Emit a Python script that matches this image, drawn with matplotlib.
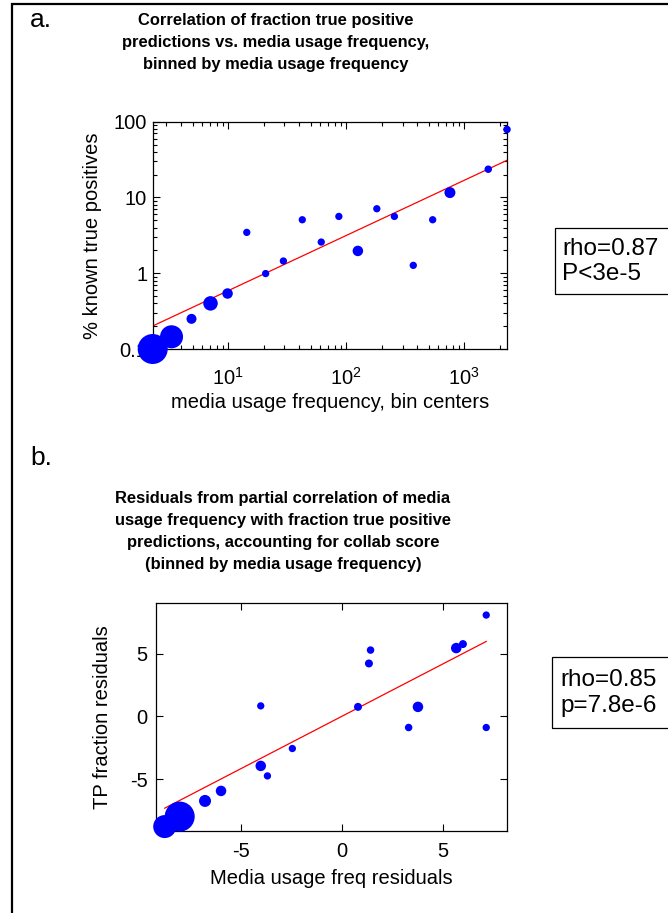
import matplotlib
matplotlib.use("Agg")
import matplotlib.pyplot as plt
from matplotlib import font_manager
from matplotlib.patches import Rectangle
import numpy as np

plt.rcParams["font.family"] = ["Liberation Sans", "DejaVu Sans"]
plt.rcParams["mathtext.fontset"] = "custom"
plt.rcParams["mathtext.rm"] = "Liberation Sans"
plt.rcParams["mathtext.it"] = "Liberation Sans:italic"
plt.rcParams["mathtext.bf"] = "Liberation Sans:bold"

W, H, DPI = 668, 913, 100

# ── panel a: binned by media usage frequency ────────────────────────────────
freq_bin_centers = [2.3, 3.32, 4.9, 7.1, 9.9, 14.4, 20.8, 29.4, 42.5, 61.5,
                    86.7, 125.6, 181.7, 256, 370, 540, 756, 1596, 2300]
pct_known_tp = [0.1, 0.145, 0.25, 0.40, 0.54, 3.46, 0.99, 1.45, 5.08, 2.58,
                5.62, 1.97, 7.1, 5.62, 1.27, 5.08, 11.6, 23.6, 79]
marker_px_a = [30, 23, 10, 14.5, 10.5, 7.3, 7.3, 7.3, 7.3, 7.3,
               7.3, 10.5, 7.3, 7.3, 7.3, 7.3, 11, 7.5, 7.5]
fit_a_slope, fit_a_intercept = 0.729, -0.960   # log10-log10 fit
y_ticks_a = [0.1, 1, 10, 100]
y_ticklabels_a = ["0.1", "1", "10", "100"]
x_ticks_a = [10, 100, 1000]
x_ticklabels_a = [r"$\mathdefault{10^{1}}$", r"$\mathdefault{10^{2}}$", r"$\mathdefault{10^{3}}$"]

# ── panel b: partial correlation residuals ──────────────────────────────────
media_resid = [-8.75, -8.01, -6.76, -5.97, -4.01, -4.01, -3.68, -2.45, 0.79,
               1.33, 1.41, 3.29, 3.75, 5.64, 5.97, 7.12, 7.12]
tp_resid = [-8.8, -8.0, -6.75, -5.95, 0.85, -3.95, -4.75, -2.56, 0.77,
            4.24, 5.31, -0.88, 0.77, 5.47, 5.79, 8.11, -0.88]
marker_px_b = [23, 30, 12, 10.5, 7.3, 10.5, 7.3, 7.3, 8,
               8, 7.5, 7.5, 10.5, 10.5, 8, 7.3, 7.3]
fit_b_slope, fit_b_intercept = 0.84, 0.02
ticks_b = [-5, 0, 5]

# titles are set in a narrow bold face in the original
_names = {f.name for f in font_manager.fontManager.ttflist}
if "Liberation Sans Narrow" in _names:
    TITLE_FONT = dict(family="Liberation Sans Narrow", fontsize=14.3, linespacing=1.3)
else:
    TITLE_FONT = dict(family="Liberation Sans", fontsize=11.9, linespacing=1.58)


def px_to_s(d):
    # marker diameter in pixels -> scatter area in points^2
    return (np.asarray(d) * 72 / DPI) ** 2


def fx(px):
    return px / W


def fy(px):
    return 1 - px / H


def style_axes(ax):
    ax.tick_params(which="both", direction="in", top=True, right=True,
                   labelsize=14.5, width=0.8)
    ax.tick_params(which="major", length=5)
    ax.tick_params(which="minor", length=3)
    for s in ax.spines.values():
        s.set_linewidth(0.9)


fig = plt.figure(figsize=(W / DPI, H / DPI), dpi=DPI)

# outer frame (cut off right and bottom)
fig.add_artist(Rectangle((fx(12), -0.1), 1.0, fy(4) + 0.1, transform=fig.transFigure,
                         fill=False, lw=1.6, edgecolor="black"))

# panel a
ax1 = fig.add_axes([fx(152.7), fy(349), fx(507 - 152.7), (349 - 121.7) / H])
ax1.set_xscale("log")
ax1.set_yscale("log")
ax1.scatter(freq_bin_centers, pct_known_tp, s=px_to_s(marker_px_a),
            color="#0000ff", edgecolors="none", clip_on=False, zorder=3)
xs = np.array(freq_bin_centers)
ax1.plot(xs, 10 ** (fit_a_intercept + fit_a_slope * np.log10(xs)),
         color="#ff0000", lw=0.9, zorder=2)
ax1.set_xlim(freq_bin_centers[0], freq_bin_centers[-1])
ax1.set_ylim(0.1, 100)
style_axes(ax1)
ax1.set_yticks(y_ticks_a, y_ticklabels_a)
ax1.set_xticks(x_ticks_a, x_ticklabels_a)
ax1.tick_params(axis="x", pad=13)
ax1.tick_params(axis="y", pad=4)
ax1.set_xlabel("media usage frequency, bin centers", fontsize=14.5, va="center")
ax1.set_ylabel("% known true positives", fontsize=14.5, va="center")
ax1.xaxis.set_label_coords(0.5, (349 - 402) / 227.3)
ax1.yaxis.set_label_coords((93 - 152.7) / 354.3, 0.5)

fig.text(fx(276), fy(13), "Correlation of fraction true positive\n"
         "predictions vs. media usage frequency,\n"
         "binned by media usage frequency",
         ha="center", va="top", fontweight="bold", **TITLE_FONT)
fig.text(fx(30), fy(27), "a.", fontsize=19, ha="left", va="baseline")

fig.add_artist(Rectangle((fx(555), fy(294)), 0.5, (294 - 228) / H,
                         transform=fig.transFigure, fill=False, lw=0.9))
fig.text(fx(562), fy(255), "rho=0.87", fontsize=17.5, va="baseline")
fig.text(fx(562), fy(280), "P<3e-5", fontsize=17.5, va="baseline")

# panel b
ax2 = fig.add_axes([fx(156), fy(830.7), fx(507.3 - 156), (830.7 - 603.3) / H])
ax2.scatter(media_resid, tp_resid, s=px_to_s(marker_px_b),
            color="#0000ff", edgecolors="none", clip_on=False, zorder=3)
xr = np.array(media_resid)
ax2.plot(xr, fit_b_intercept + fit_b_slope * xr, color="#ff0000", lw=0.9, zorder=2)
ax2.set_xlim(-9.18, 8.16)
ax2.set_ylim(-9.13, 9.05)
style_axes(ax2)
ax2.set_xticks(ticks_b, [str(t) for t in ticks_b])
ax2.set_yticks(ticks_b, [str(t) for t in ticks_b])
ax2.tick_params(axis="x", pad=8)
ax2.tick_params(axis="y", pad=6)
ax2.set_xlabel("Media usage freq residuals", fontsize=14.5, va="center")
ax2.set_ylabel("TP fraction residuals", fontsize=14.5, va="center")
ax2.xaxis.set_label_coords(0.5, (830.7 - 878) / 227.4)
ax2.yaxis.set_label_coords((102 - 156) / 351.3, 0.5)

fig.text(fx(283), fy(491), "Residuals from partial correlation of media\n"
         "usage frequency with fraction true positive\n"
         "predictions, accounting for collab score\n"
         "(binned by media usage frequency)",
         ha="center", va="top", fontweight="bold", **TITLE_FONT)
fig.text(fx(30), fy(465), "b.", fontsize=19, ha="left", va="baseline")

fig.add_artist(Rectangle((fx(552), fy(728)), 0.5, (728 - 657) / H,
                         transform=fig.transFigure, fill=False, lw=0.9))
fig.text(fx(560), fy(686), "rho=0.85", fontsize=17.5, va="baseline")
fig.text(fx(560), fy(712), "p=7.8e-6", fontsize=17.5, va="baseline")

fig.savefig("out.png", dpi=DPI, facecolor="white")
